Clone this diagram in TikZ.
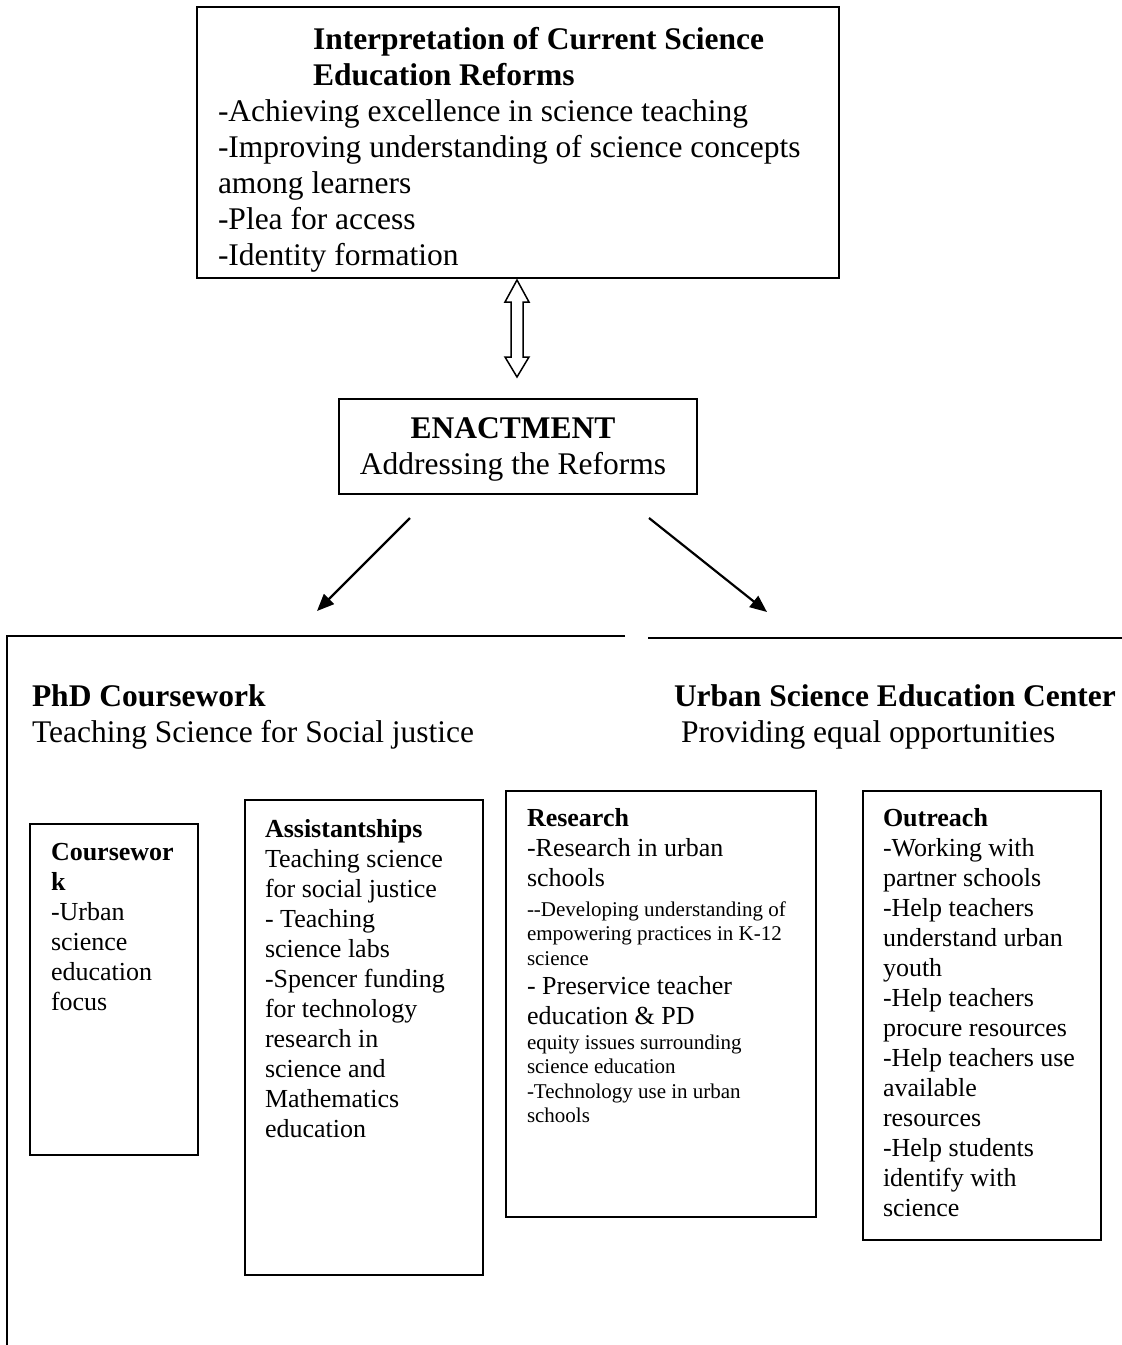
\documentclass[tikz,border=0pt]{standalone}
\usepackage{fontspec}
\setmainfont{Liberation Serif}
\usetikzlibrary{arrows.meta,calc}

\begin{document}
\begin{tikzpicture}[x=1pt,y=-1pt,
  panel/.style={draw, line width=1.8pt, inner sep=0pt, outer sep=0pt, anchor=north west},
  txt/.style={inner sep=0pt, outer sep=0pt, anchor=north west, align=left},
  big/.style={font=\fontsize{31.5}{36}\selectfont},
  bigbold/.style={font=\fontsize{31.5}{36}\selectfont\bfseries},
  mid/.style={font=\fontsize{26}{30}\selectfont},
  sml/.style={font=\fontsize{21}{24.5}\selectfont},
  flow/.style={line width=2.2pt, -{Triangle[length=17pt,width=14pt]}},
  bracket/.style={line width=2pt},
]
\useasboundingbox (0,0) rectangle (1122,1345);

% ---------- top box: reforms ----------
\node[panel, minimum width=642pt, minimum height=271pt] (top) at (197,7) {};
\node[txt, bigbold] (topHead) at (313,23.8)
  {\strut Interpretation of Current Science\\Education Reforms};
\node[txt, big] (topBody) at (218,95.8)
  {\strut -Achieving excellence in science teaching\\
   -Improving understanding of science concepts\\
   among learners\\
   -Plea for access\\
   -Identity formation};

% ---------- hollow double arrow ----------
\draw[line width=1.5pt, fill=white]
  ($(top.south)+(-1,2)$) -- ++(12,22) -- ++(-6,0) -- ++(0,55) -- ++(6,0)
  -- ++(-12,20) -- ++(-12,-20) -- ++(6,0) -- ++(0,-55) -- ++(-6,0) -- cycle;

% ---------- enactment box ----------
\node[panel, minimum width=358pt, minimum height=95pt] (enact) at (339,399) {};
\node[inner sep=0pt, outer sep=0pt, anchor=north, align=center, big] (enactText) at (513,413)
  {\strut\textbf{ENACTMENT}\\Addressing the Reforms};

% ---------- diagonal arrows ----------
\coordinate (lA) at (410,518);
\coordinate (lB) at (317,611);
\coordinate (rA) at (649,518);
\coordinate (rB) at (767,612);
\draw[flow] (lA) -- (lB);
\draw[flow] (rA) -- (rB);

% ---------- bracket lines ----------
\coordinate (bl1) at (625,636);
\coordinate (bl2) at (7,636);
\coordinate (bl3) at (7,1350);
\coordinate (br1) at (648,638);
\coordinate (br2) at (1122,638);
\draw[bracket] (bl1) -- (bl2) -- (bl3);
\draw[bracket] (br1) -- (br2);

% ---------- section headings ----------
\node[txt, big] (phd) at (32,680.8)
  {\strut\textbf{PhD Coursework}\\Teaching Science for Social justice};
\node[txt, big] (usec) at (674,680.8)
  {\strut\textbf{Urban Science Education Center}\\\hspace*{7pt}Providing equal opportunities};

% ---------- coursework ----------
\node[panel, minimum width=168pt, minimum height=331pt] (cw) at (30,824) {};
\node[txt, mid] (cwText) at (51,839)
  {\strut\textbf{Coursewor}\\\textbf{k}\\-Urban\\science\\education\\focus};

% ---------- assistantships ----------
\node[panel, minimum width=238pt, minimum height=475pt] (asst) at (245,800) {};
\node[txt, mid] (asstText) at (265,816)
  {\strut\textbf{Assistantships}\\Teaching science\\for social justice\\- Teaching\\science labs\\
   -Spencer funding\\for technology\\research in\\science and\\Mathematics\\education};

% ---------- research ----------
\node[panel, minimum width=310pt, minimum height=426pt] (res) at (506,791) {};
\node[txt, mid] (resA) at (527,805)
  {\strut\textbf{Research}\\-Research in urban\\schools};
\node[txt, sml] (resB) at (527,898.9)
  {\strut -{}-Developing understanding of\\empowering practices in K-12\\science};
\node[txt, mid] (resC) at (527,973)
  {\strut - Preservice teacher\\education \& PD};
\node[txt, sml] (resD) at (527,1031.9)
  {\strut equity issues surrounding\\science education\\-Technology use in urban\\schools};

% ---------- outreach ----------
\node[panel, minimum width=238pt, minimum height=449pt] (out) at (863,791) {};
\node[txt, mid] (outText) at (883,805)
  {\strut\textbf{Outreach}\\-Working with\\partner schools\\-Help teachers\\understand urban\\youth\\
   -Help teachers\\procure resources\\-Help teachers use\\available\\resources\\
   -Help students\\identify with\\science};
\end{tikzpicture}
\end{document}
